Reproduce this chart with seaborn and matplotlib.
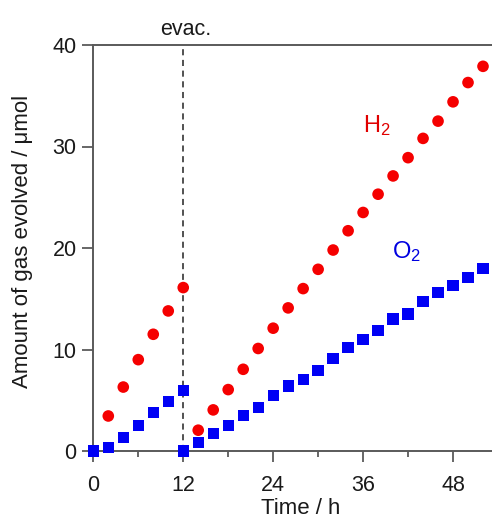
import matplotlib
matplotlib.use("Agg")
import matplotlib.pyplot as plt
import seaborn as sns
import pandas as pd
from matplotlib.ticker import MultipleLocator

# Data
time_h2 = [2, 4, 6, 8, 10, 12,
           14, 16, 18, 20, 22, 24, 26, 28, 30, 32, 34, 36, 38, 40, 42, 44, 46, 48, 50, 52]
h2 = [3.45, 6.3, 9.0, 11.5, 13.8, 16.1,
      2.05, 4.05, 6.05, 8.05, 10.1, 12.1, 14.1, 16.0, 17.9, 19.8, 21.7, 23.5, 25.3, 27.1,
      28.9, 30.8, 32.5, 34.4, 36.3, 37.9]
time_o2 = [0, 2, 4, 6, 8, 10, 12,
           12, 14, 16, 18, 20, 22, 24, 26, 28, 30, 32, 34, 36, 38, 40, 42, 44, 46, 48, 50, 52]
o2 = [0.0, 0.36, 1.3, 2.5, 3.8, 4.9, 5.95,
      0.0, 0.85, 1.74, 2.5, 3.5, 4.3, 5.45, 6.4, 7.05, 7.9, 9.1, 10.2, 11.0, 11.9, 13.0,
      13.5, 14.7, 15.6, 16.3, 17.1, 18.0]
x_ticks = [0, 12, 24, 36, 48]
y_ticks = [0, 10, 20, 30, 40]
evac_time = 12

df_h2 = pd.DataFrame({"t": time_h2, "v": h2})
df_o2 = pd.DataFrame({"t": time_o2, "v": o2})

sns.set_theme(style="ticks")
plt.rcParams["font.family"] = ["Liberation Sans", "DejaVu Sans"]
plt.rcParams["mathtext.default"] = "regular"

fig = plt.figure(figsize=(4.92, 5.2), dpi=100)
ax = fig.add_axes([93.3 / 492, 1 - 451 / 520, 1 - 93.3 / 492, 406 / 520])

spine_col = "#5a5a5a"
ax.axvline(evac_time, color="#222222", lw=1.1, ls=(0, (4, 3)), zorder=1)

sns.scatterplot(data=df_h2, x="t", y="v", ax=ax, marker="o", s=70,
                color="#f50000", edgecolor="none", zorder=3, clip_on=False)
sns.scatterplot(data=df_o2, x="t", y="v", ax=ax, marker="s", s=66,
                color="#0000f5", edgecolor="none", zorder=3, clip_on=False)

ax.set_xlim(0, 53.2)
ax.set_ylim(0, 40)
ax.set_xticks(x_ticks)
ax.set_yticks(y_ticks)
ax.xaxis.set_minor_locator(MultipleLocator(6))

for side in ["left", "bottom", "top"]:
    ax.spines[side].set_color(spine_col)
    ax.spines[side].set_linewidth(1.4)
ax.spines["right"].set_visible(False)

ax.tick_params(axis="both", which="major", direction="out", length=8,
               width=1.3, color=spine_col, labelsize=15.5, labelcolor="#1a1a1a")
ax.tick_params(axis="x", which="major", pad=9)
ax.tick_params(axis="y", which="major", pad=4)
ax.tick_params(axis="x", which="minor", direction="out", length=4.5,
               width=1.3, color=spine_col)

ax.set_xlabel("Time / h", fontsize=16, color="#1a1a1a", va="center")
ax.set_ylabel("Amount of gas evolved / μmol", fontsize=16, color="#1a1a1a", va="center")
ax.xaxis.set_label_coords(0.519, -0.141)
ax.yaxis.set_label_coords(-0.178, 0.517)

ax.text(evac_time + 0.4, 41.5, "evac.", fontsize=15.5, ha="center", va="center",
        color="#1a1a1a")
ax.text(36.0, 31.4, "H$_2$", fontsize=17, color="#e00000", ha="left", va="baseline")
ax.text(39.8, 19.0, "O$_2$", fontsize=17, color="#0000e0", ha="left", va="baseline")

fig.savefig("out.png", dpi=100)
